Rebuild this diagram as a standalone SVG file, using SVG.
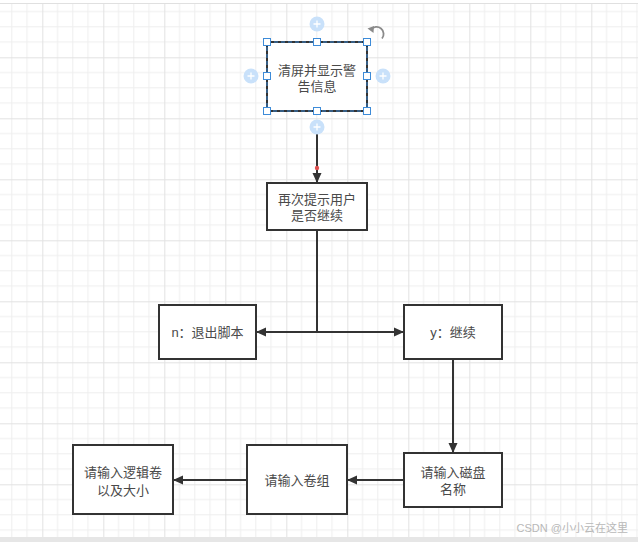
<svg xmlns="http://www.w3.org/2000/svg" width="638" height="542" viewBox="0 0 638 542">
<style>
.box{fill:#ffffff;stroke:#333333;stroke-width:2}
.t{font-family:"Liberation Sans","Noto Sans CJK SC",sans-serif;font-size:13px;fill:#4a4a4a;text-anchor:middle;dominant-baseline:central}
.edge{fill:none;stroke:#333333;stroke-width:2}
.h{fill:#ffffff;stroke:#3d8bd8;stroke-width:1}
.plus{fill:#c9e1fa}
.pl{stroke:#ffffff;stroke-width:1.3}
</style>
<defs>
<pattern id="grid" patternUnits="userSpaceOnUse" x="-18.7" y="-3.7" width="61" height="61">
<path d="M15.25 0V61M30.5 0V61M45.75 0V61M0 15.25H61M0 30.5H61M0 45.75H61" stroke="#eeeeee" stroke-width="1"/>
<path d="M0.5 0V61M0 0.5H61" stroke="#e2e2e2" stroke-width="1"/>
</pattern>
<marker id="arr" viewBox="0 0 10 10" refX="9" refY="5" markerWidth="10" markerHeight="10" markerUnits="userSpaceOnUse" orient="auto">
<path d="M0 0.5L10 5L0 9.5Z" fill="#333333"/>
</marker>
</defs>
<rect x="0" y="0" width="638" height="542" fill="#ffffff"/>
<rect x="0" y="3" width="638" height="534" fill="url(#grid)"/>
<line x1="0" y1="3.5" x2="638" y2="3.5" stroke="#e0e0e0"/>
<rect x="0" y="537" width="638" height="5" fill="#e6e6e6"/>

<g id="connectors">
<line class="edge" x1="317" y1="134" x2="317" y2="182" marker-end="url(#arr)"/>
<circle cx="317" cy="168" r="2.2" fill="#e05050"/>
<polyline class="edge" points="317,231 317,332"/>
<line class="edge" x1="317" y1="332" x2="257" y2="332" marker-end="url(#arr)"/>
<line class="edge" x1="317" y1="332" x2="403" y2="332" marker-end="url(#arr)"/>
<line class="edge" x1="453" y1="360" x2="453" y2="452" marker-end="url(#arr)"/>
<line class="edge" x1="404" y1="480" x2="348" y2="480" marker-end="url(#arr)"/>
<line class="edge" x1="247" y1="480" x2="174" y2="480" marker-end="url(#arr)"/>
</g>

<g id="n1">
<rect class="box" x="267" y="42" width="100" height="69"/>
<rect x="267" y="42" width="100" height="69" fill="none" stroke="#3d8bd8" stroke-width="1" stroke-dasharray="4 3"/>
<text class="t" x="317" y="70">清屏并显示警</text>
<text class="t" x="317" y="86">告信息</text>
<g>
<rect class="h" x="263.5" y="38.5" width="7" height="7"/>
<rect class="h" x="313.5" y="38.5" width="7" height="7"/>
<rect class="h" x="363.5" y="38.5" width="7" height="7"/>
<rect class="h" x="263.5" y="72.5" width="7" height="7"/>
<rect class="h" x="363.5" y="72.5" width="7" height="7"/>
<rect class="h" x="263.5" y="107.5" width="7" height="7"/>
<rect class="h" x="313.5" y="107.5" width="7" height="7"/>
<rect class="h" x="363.5" y="107.5" width="7" height="7"/>
</g>
<g>
<circle class="plus" cx="317" cy="24" r="7.5"/><path class="pl" d="M313.5 24H320.5M317 20.5V27.5"/>
<circle class="plus" cx="251" cy="76" r="7.5"/><path class="pl" d="M247.5 76H254.5M251 72.5V79.5"/>
<circle class="plus" cx="383" cy="76" r="7.5"/><path class="pl" d="M379.5 76H386.5M383 72.5V79.5"/>
<circle class="plus" cx="317" cy="127" r="7.5"/><path class="pl" d="M313.5 127H320.5M317 123.5V130.5"/>
</g>
<path d="M371 29.5A7 7 0 0 1 382 38.5" fill="none" stroke="#8a8a8a" stroke-width="1.8"/>
<path d="M367.5 28.5L374 26L373.5 33Z" fill="#8a8a8a"/>
</g>

<g id="n2">
<rect class="box" x="267" y="183" width="100" height="47"/>
<text class="t" x="317" y="199">再次提示用户</text>
<text class="t" x="317" y="215">是否继续</text>
</g>

<g id="n3">
<rect class="box" x="159" y="305" width="97" height="54"/>
<text class="t" x="207.5" y="332">n：退出脚本</text>
</g>

<g id="n4">
<rect class="box" x="404" y="305" width="98" height="54"/>
<text class="t" x="453" y="332">y：继续</text>
</g>

<g id="n5">
<rect class="box" x="404" y="453" width="98" height="54"/>
<text class="t" x="453" y="472">请输入磁盘</text>
<text class="t" x="453" y="489">名称</text>
</g>

<g id="n6">
<rect class="box" x="247" y="445" width="100" height="69"/>
<text class="t" x="297" y="480">请输入卷组</text>
</g>

<g id="n7">
<rect class="box" x="73" y="445" width="100" height="69"/>
<text class="t" x="123" y="472">请输入逻辑卷</text>
<text class="t" x="123" y="490">以及大小</text>
</g>

<text x="628" y="528" font-family="Liberation Sans,'Noto Sans CJK SC',sans-serif" font-size="11" fill="#b8b8b8" text-anchor="end" dominant-baseline="central">CSDN @小小云在这里</text>
</svg>
